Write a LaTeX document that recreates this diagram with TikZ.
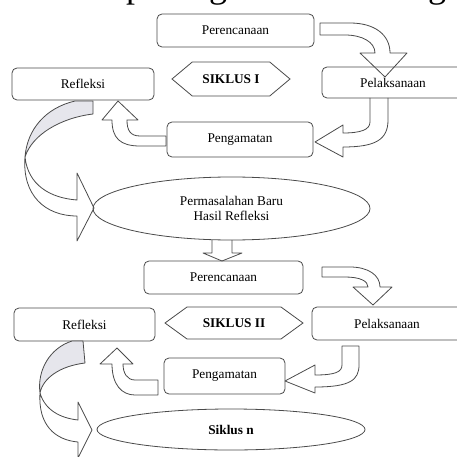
\documentclass[tikz,border=0pt]{standalone}
\usepackage{fontspec}
\setmainfont{Liberation Serif}
\usetikzlibrary{shapes.symbols,shapes.geometric}
\definecolor{ln}{HTML}{4A4A4A}
\definecolor{shadec}{HTML}{E6E6EC}
\tikzset{
 box/.style={draw=ln, line width=0.8pt, rounded corners=5pt, inner sep=0pt, font=\fontsize{13.3}{15}\selectfont},
 hexa/.style={draw=ln, line width=0.8pt, signal, signal to=east and west, inner sep=0pt, font=\fontsize{13.3}{15}\selectfont\bfseries},
 oval/.style={draw=ln, line width=0.8pt, ellipse, inner sep=0pt, align=center, font=\fontsize{13.3}{14.5}\selectfont},
 barrow/.style={draw=ln, line width=0.8pt, line join=round},
 backpart/.style={barrow, fill=shadec},
 frag/.style={anchor=base west, inner sep=0pt, font=\fontsize{36}{36}\selectfont, text=black}
}
\begin{document}
\begin{tikzpicture}[x=1pt,y=-1pt]
\useasboundingbox (0,0) rectangle (457,457);
\clip (0,0) rectangle (457,457);
\fill[white] (0,0) rectangle (457,457);
% fragments of the text line above (only descenders visible)
\node[frag] (f1) at (126,-2.8) {p};
\node[frag] (f2) at (209,-2.8) {g};
\node[frag] (f3) at (428,-2.8) {g};
% cycle I
\node[box, minimum width=157pt, minimum height=33pt] (per1) at (235.5,30.5) {Perencanaan};
\node[box, minimum width=142pt, minimum height=32pt] (ref1) at (83,84) {Refleksi};
\node[hexa, minimum width=118pt, minimum height=34pt, signal pointer angle=80] (sik1) at (231,79) {SIKLUS I};
\node[box, minimum width=142pt, minimum height=31pt] (pel1) at (393,82.5) {Pelaksanaan};
\node[box, minimum width=146pt, minimum height=35pt] (pen1) at (240,139.5) {Pengamatan};
\node[oval, minimum width=277pt, minimum height=63pt] (ell1) at (231.5,208.5) {Permasalahan Baru\\Hasil Refleksi};
% cycle II
\node[box, minimum width=159pt, minimum height=33pt] (per2) at (223.5,277.5) {Perencanaan};
\node[box, minimum width=141pt, minimum height=33pt] (ref2) at (84.5,324.5) {Refleksi};
\node[hexa, minimum width=138pt, minimum height=32pt, signal pointer angle=72] (sik2) at (234,323) {SIKLUS II};
\node[box, minimum width=150pt, minimum height=33pt] (pel2) at (387,323.5) {Pelaksanaan};
\node[box, minimum width=121pt, minimum height=36pt] (pen2) at (224.5,376) {Pengamatan};
\node[oval, minimum width=268pt, minimum height=41pt, font=\fontsize{13.3}{15}\selectfont\bfseries] (ell2) at (231,429.5) {Siklus n};
% block arrows, cycle I
\draw[barrow] (320,23) -- (350,23) .. controls (375,23) and (390,35) .. (390,53) -- (407,53) -- (385,77) -- (360,53) -- (375,53) .. controls (375,42) and (362,35) .. (345,35) -- (320,35) -- cycle;
\draw[barrow] (370,98) -- (370,122) .. controls (370,130) and (360,133) .. (343,133) -- (343,125) -- (315,142) -- (343,157) -- (343,147) .. controls (375,147) and (388,140) .. (388,120) -- (388,98);
\draw[barrow] (166,136) -- (140,136) .. controls (130,136) and (127,130) .. (127,120) -- (138,120) -- (118,101) -- (102,120) -- (112,120) .. controls (112,138) and (120,146) .. (140,146) -- (166,146) -- cycle;
\draw[backpart] (75,101) -- (93,101) -- (93,114) .. controls (60,118) and (32,135) .. (25,157) .. controls (27,130) and (45,108) .. (75,101) -- cycle;
\draw[barrow] (25,157) .. controls (28,185) and (50,198) .. (77,200) -- (77,173) -- (94,208) -- (77,241) -- (77,216) .. controls (45,216) and (22,195) .. (25,157);
% link
\draw[barrow] (212,240) -- (212,253) -- (203,253) -- (222,261) -- (242,253) -- (232,253) -- (232,240);
% block arrows, cycle II
\draw[barrow] (322,267) -- (350,267) .. controls (368,267) and (380,275) .. (380,287) -- (392,287) -- (373,305) -- (353,287) -- (368,287) .. controls (368,281) and (360,277) .. (345,277) -- (322,277) -- cycle;
\draw[barrow] (342,346) -- (342,365) .. controls (342,372) and (335,375) .. (315,375) -- (315,365) -- (285,381) -- (315,393) -- (315,387) .. controls (350,387) and (359,380) .. (359,365) -- (359,346) -- cycle;
\draw[barrow] (158,380) -- (135,380) .. controls (127,380) and (123,373) .. (123,364) -- (133,364) -- (117,348) -- (100,364) -- (112,364) .. controls (112,385) and (122,395) .. (135,395) -- (158,395) -- cycle;
\draw[backpart] (72,341) -- (83,341) -- (85,363) .. controls (60,366) and (43,378) .. (40,393) .. controls (37,370) and (50,348) .. (72,341) -- cycle;
\draw[barrow] (40,393) .. controls (45,410) and (60,418) .. (78,420) -- (78,402) -- (92,430) -- (78,458) -- (78,442) .. controls (55,440) and (38,425) .. (40,393);
\end{tikzpicture}
\end{document}
